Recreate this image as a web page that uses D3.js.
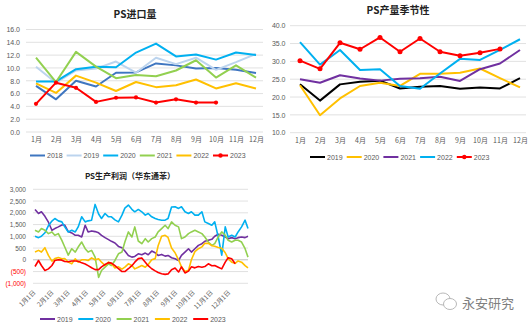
<!DOCTYPE html>
<html><head><meta charset="utf-8">
<script src="https://cdn.jsdelivr.net/npm/d3@7"></script>
<style>
html,body{margin:0;padding:0;background:#fff;}
svg{display:block;font-family:"Liberation Sans","Noto Sans CJK SC",sans-serif;}
</style></head>
<body><svg id="c" width="532" height="327"></svg>
<script>
// ---------- Chart 1: PS进口量 ----------
const months = ["1月","2月","3月","4月","5月","6月","7月","8月","9月","10月","11月","12月"];
const importYears = ["2018","2019","2020","2021","2022","2023"];
const imp2018 = [7.2,5.1,8.0,7.1,9.25,9.3,10.7,10.4,9.9,10.0,9.7,9.2];
const imp2019 = [10.2,7.7,9.6,9.9,11.0,9.25,11.6,10.6,11.6,9.7,10.9,12.2];
const imp2020 = [7.9,7.9,9.8,10.2,10.1,12.4,13.8,11.8,12.1,11.3,12.4,12.0];
const imp2021 = [11.6,7.8,12.5,10.2,8.4,8.9,8.7,9.6,11.2,8.5,10.4,8.5];
const imp2022 = [7.6,6.1,8.8,7.7,6.4,7.8,7.0,7.3,8.2,6.8,7.6,6.8];
const imp2023 = [4.4,7.7,6.9,4.7,5.35,5.4,4.6,5.1,4.6,4.6];
const importTicks = [0,2,4,6,8,10,12,14,16];

// ---------- Chart 2: PS产量季节性 ----------
const prodYears = ["2019","2020","2021","2022","2023"];
const prod2019 = [23.6,19.0,23.55,24.3,24.6,22.4,22.9,23.1,22.3,22.7,22.4,25.3];
const prod2020 = [23.3,14.9,19.6,23.1,24.0,23.1,26.5,26.5,26.8,28.0,25.3,22.7];
const prod2021 = [25.0,24.0,26.1,25.2,24.6,25.1,25.3,25.7,24.5,27.8,29.4,33.2];
const prod2022 = [35.4,29.1,33.2,27.6,27.8,23.1,22.3,26.6,30.7,30.4,33.2,36.2];
const prod2023 = [30.2,27.9,35.2,33.4,36.7,32.7,36.4,32.7,31.6,32.4,33.5];
const prodTicks = [10,15,20,25,30,35,40];

// ---------- Chart 3: PS生产利润（华东通苯） ----------
const profitYears = ["2019","2020","2021","2022","2023"];
const profitDays = [0,6,11,17,23,29,34,40,46,51,57,63,69,74,80,86,91,97,103,109,114,120,126,131,137,143,149,154,160,166,171,177,183,189,194,200,206,211,217,223,228,234,240,246,251,257,263,268,274,280,286,291,297,303,308,314,320,326,331,337,343,348,354,360,365];
const profit2019 = [2143,1971,2043,1850,1600,1257,1329,1400,1480,1480,1200,1143,1043,1043,971,1471,1186,1229,1200,1150,1043,943,857,786,714,571,514,371,186,114,143,257,214,286,214,371,300,186,229,157,186,86,43,-29,186,329,471,329,471,614,686,786,829,871,1000,1086,1043,971,900,943,900,943,971,943,1000];
const profit2020 = [1000,943,1000,1150,1450,1650,1757,1657,1614,1400,1186,1257,1186,1400,1829,1614,1657,1686,2357,1950,1757,1971,1829,1829,1700,1614,1900,2200,2329,2150,2043,2143,2043,1900,1971,1829,1757,1714,1686,1686,1757,2250,2257,2186,2257,2043,1971,2043,1900,1900,2043,1614,1543,1471,1614,971,200,1400,971,1043,971,1186,1400,1686,1329];
const profit2021 = [1257,1186,1329,1257,1114,1186,1043,1114,829,543,200,471,329,543,757,471,329,400,114,-750,-457,-314,-171,-243,-29,257,329,757,1186,971,1400,800,686,900,757,900,971,1186,1329,1471,1329,1614,1471,1400,900,971,1114,1186,1257,1186,1114,971,757,614,686,971,1186,1043,829,757,829,829,757,471,114];
const profit2022 = [329,400,329,514,186,-60,50,100,43,50,-100,-171,43,-100,0,0,-29,80,0,43,-100,-243,-100,-171,-350,-300,-400,-314,-171,-243,-386,-314,-243,-314,-200,0,50,600,1000,1043,950,500,300,0,-300,-500,-450,0,350,471,550,700,700,600,580,520,490,300,50,-100,-150,-50,-100,-250,-343];
const profit2023 = [-286,-29,-243,-457,-386,-243,-29,0,-15,-70,-80,-50,-50,-60,-130,-180,-250,-340,-420,-420,-300,-200,-120,-140,-250,-380,-500,-500,-380,-250,-100,50,80,-100,-250,-380,-470,-540,-590,-620,-600,-420,-350,-520,-300,-560,-480,-300,-343,-286,-314,-286,-171,-250,-243,-314,-386,-100,86,43,-171];
const profitTicks = [-1000,-500,0,500,1000,1500,2000,2500,3000];
const dateLabels = ["1月1日","2月1日","3月1日","4月1日","5月1日","6月1日","7月1日","8月1日","9月1日","10月1日","11月1日","12月1日"];
const dateLabelDays = [0,31,59,90,120,151,181,212,243,273,304,334];

const svg = d3.select("#c");
const gridC = "#d9d9d9", txtC = "#595959";

function title(x, y, t, size){
  svg.append("text").attr("x",x).attr("y",y).attr("text-anchor","middle")
    .attr("font-size",size).attr("font-weight","bold").attr("fill","#222")
    .attr("font-family","'Noto Sans CJK SC',sans-serif").text(t);
}
function legend(items, x0, step, y){
  items.forEach((it,i)=>{
    const x = x0 + i*step;
    svg.append("line").attr("x1",x).attr("x2",x+15).attr("y1",y).attr("y2",y)
      .attr("stroke",it.color).attr("stroke-width",2);
    if(it.marker) svg.append("circle").attr("cx",x+7.5).attr("cy",y).attr("r",2.2).attr("fill",it.color);
    svg.append("text").attr("x",x+17).attr("y",y+2.5).attr("font-size",7).attr("fill",txtC).text(it.name);
  });
}

// ----- Chart 1 -----
{
  const x = d3.scalePoint().domain(months).range([36,256]);
  const y = d3.scaleLinear().domain([0,16]).range([132,29.5]);
  svg.selectAll(null).data(importTicks).join("line")
    .attr("x1",26).attr("x2",263).attr("y1",d=>y(d)).attr("y2",d=>y(d))
    .attr("stroke",gridC).attr("stroke-width",0.8);
  const ya = d3.axisLeft(y).tickValues(importTicks).tickFormat(d3.format(".1f")).tickSize(0).tickPadding(0);
  const yg = svg.append("g").attr("transform","translate(20,0)").call(ya);
  yg.select(".domain").remove();
  yg.selectAll("text").attr("font-size",7).attr("fill",txtC).attr("font-family","'Liberation Sans',sans-serif");
  const xa = d3.axisBottom(x).tickSize(0).tickPadding(0);
  const xg = svg.append("g").attr("transform","translate(0,137)").call(xa);
  xg.select(".domain").remove();
  xg.selectAll("text").attr("font-size",7).attr("fill",txtC).attr("font-family","'Noto Sans CJK SC',sans-serif");
  const series = [
    {name:"2018",data:imp2018,color:"#3f76c0"},
    {name:"2019",data:imp2019,color:"#bcd4ee"},
    {name:"2020",data:imp2020,color:"#00b0f0"},
    {name:"2021",data:imp2021,color:"#92d050"},
    {name:"2022",data:imp2022,color:"#ffc000"},
    {name:"2023",data:imp2023,color:"#ff0000",marker:true}
  ];
  const line = d3.line().x((d,i)=>x(months[i])).y(d=>y(d));
  series.forEach(s=>{
    svg.append("path").attr("d",line(s.data)).attr("fill","none").attr("stroke",s.color)
      .attr("stroke-width",2).attr("stroke-linejoin","round");
    if(s.marker) svg.selectAll(null).data(s.data).join("circle")
      .attr("cx",(d,i)=>x(months[i])).attr("cy",d=>y(d)).attr("r",2.1).attr("fill",s.color);
  });
  title(135,18,"PS进口量",10);
  legend(series,30,36.6,155.5);
}

// ----- Chart 2 -----
{
  const x = d3.scalePoint().domain(months).range([300,520]);
  const y = d3.scaleLinear().domain([10,40]).range([132.7,25.7]);
  svg.selectAll(null).data(prodTicks).join("line")
    .attr("x1",290).attr("x2",526).attr("y1",d=>y(d)).attr("y2",d=>y(d))
    .attr("stroke",gridC).attr("stroke-width",0.8);
  const ya = d3.axisLeft(y).tickValues(prodTicks).tickFormat(d3.format(".1f")).tickSize(0).tickPadding(0);
  const yg = svg.append("g").attr("transform","translate(285.5,0)").call(ya);
  yg.select(".domain").remove();
  yg.selectAll("text").attr("font-size",7).attr("fill",txtC).attr("font-family","'Liberation Sans',sans-serif");
  const xa = d3.axisBottom(x).tickSize(0).tickPadding(0);
  const xg = svg.append("g").attr("transform","translate(0,138)").call(xa);
  xg.select(".domain").remove();
  xg.selectAll("text").attr("font-size",7).attr("fill",txtC).attr("font-family","'Noto Sans CJK SC',sans-serif");
  const series = [
    {name:"2019",data:prod2019,color:"#000000"},
    {name:"2020",data:prod2020,color:"#ffc000"},
    {name:"2021",data:prod2021,color:"#7030a0"},
    {name:"2022",data:prod2022,color:"#00b0f0"},
    {name:"2023",data:prod2023,color:"#ff0000",marker:true}
  ];
  const line = d3.line().x((d,i)=>x(months[i])).y(d=>y(d));
  series.forEach(s=>{
    svg.append("path").attr("d",line(s.data)).attr("fill","none").attr("stroke",s.color)
      .attr("stroke-width",2).attr("stroke-linejoin","round");
    if(s.marker) svg.selectAll(null).data(s.data).join("circle")
      .attr("cx",(d,i)=>x(months[i])).attr("cy",d=>y(d)).attr("r",2.5).attr("fill",s.color);
  });
  title(398,14,"PS产量季节性",10);
  legend(series,310,36.7,157);
}

// ----- Chart 3 -----
{
  const x = d3.scaleLinear().domain([0,365]).range([35,248]);
  const y = d3.scaleLinear().domain([-1000,3000]).range([283.3,189.3]);
  svg.selectAll(null).data(profitTicks).join("line")
    .attr("x1",33).attr("x2",248).attr("y1",d=>y(d)).attr("y2",d=>y(d))
    .attr("stroke",d=>d===0?"#bfbfbf":gridC).attr("stroke-width",d=>d===0?1:0.8);
  const fmt = d=> d<0 ? "("+d3.format(",")(-d)+")" : d3.format(",")(d);
  const ya = d3.axisLeft(y).tickValues(profitTicks).tickFormat(fmt).tickSize(0).tickPadding(0);
  const yg = svg.append("g").attr("transform","translate(26,0)").call(ya);
  yg.select(".domain").remove();
  yg.selectAll("text").attr("font-size",6.5).attr("font-family","'Liberation Sans',sans-serif")
    .attr("fill",d=>d<0?"#ff0000":txtC);
  svg.selectAll(null).data(dateLabelDays).join("text")
    .attr("transform",(d)=>`translate(${x(d)+1},293) rotate(-45)`)
    .attr("text-anchor","end").attr("font-size",6.5).attr("fill",txtC)
    .attr("font-family","'Noto Sans CJK SC',sans-serif")
    .text((d,i)=>dateLabels[i]);
  const series = [
    {name:"2019",data:profit2019,color:"#7030a0"},
    {name:"2020",data:profit2020,color:"#00b0f0"},
    {name:"2021",data:profit2021,color:"#92d050"},
    {name:"2022",data:profit2022,color:"#ffc000"},
    {name:"2023",data:profit2023,color:"#ff0000"}
  ];
  const line = d3.line().x((d,i)=>x(profitDays[i])).y(d=>y(d));
  series.forEach(s=>{
    svg.append("path").attr("d",line(s.data)).attr("fill","none").attr("stroke",s.color)
      .attr("stroke-width",1.6).attr("stroke-linejoin","round");
  });
  title(130,179,"PS生产利润（华东通苯）",8);
  legend(series,40,38.3,319);
}

// ----- watermark -----
{
  const wm = svg.append("g").attr("fill","none").attr("stroke","#b0b0b0").attr("stroke-width",0.9);
  wm.append("ellipse").attr("cx",443).attr("cy",299).attr("rx",7).attr("ry",6);
  wm.append("ellipse").attr("cx",450).attr("cy",304).attr("rx",6.5).attr("ry",5.5).attr("fill","#fff");
  svg.append("text").attr("x",462).attr("y",308).attr("font-size",13).attr("fill","#7f7f7f")
    .attr("font-family","'Noto Sans CJK SC',sans-serif").text("永安研究");
}
</script></body></html>
